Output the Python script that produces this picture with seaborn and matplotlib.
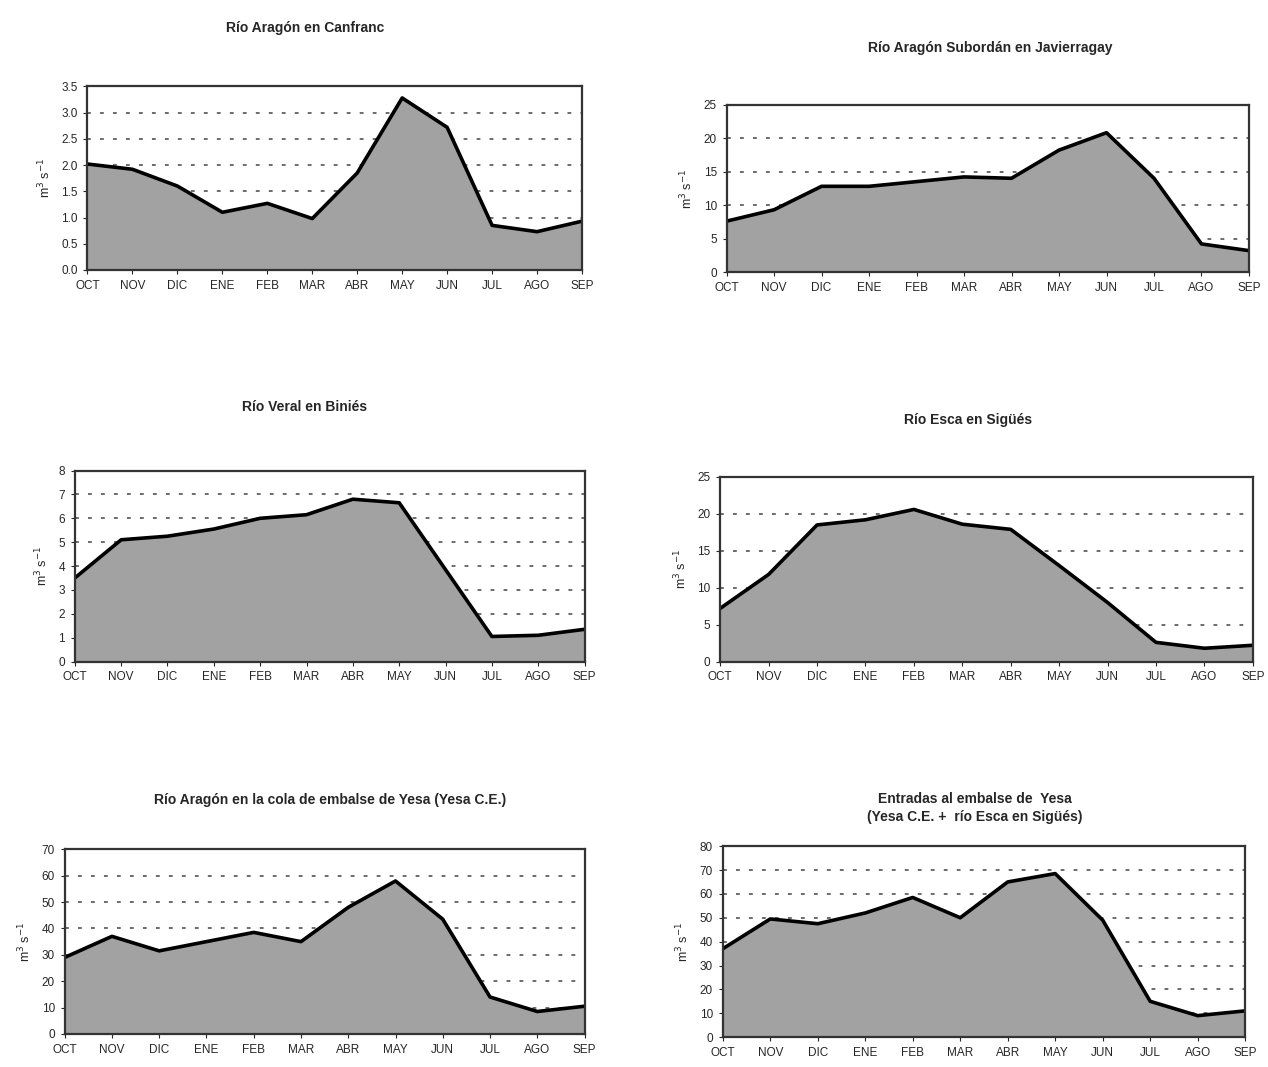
import numpy as np
import pandas as pd
import matplotlib
matplotlib.use("Agg")
import matplotlib.pyplot as plt
import seaborn as sns

# Month labels (hydrological year)
months = ["OCT", "NOV", "DIC", "ENE", "FEB", "MAR", "ABR", "MAY", "JUN", "JUL", "AGO", "SEP"]

# Mean monthly discharge (m3/s)
canfranc = [2.02, 1.92, 1.60, 1.10, 1.27, 0.98, 1.85, 3.28, 2.72, 0.85, 0.73, 0.93]
subordan = [7.6, 9.3, 12.8, 12.8, 13.5, 14.2, 14.0, 18.2, 20.8, 14.0, 4.2, 3.2]
veral = [3.5, 5.1, 5.25, 5.55, 6.0, 6.15, 6.8, 6.65, 3.85, 1.05, 1.1, 1.35]
esca = [7.2, 11.8, 18.5, 19.2, 20.6, 18.6, 17.9, 13.0, 8.0, 2.6, 1.8, 2.2]
yesa_ce = [29, 37, 31.5, 35, 38.5, 35, 48, 58, 43.5, 14, 8.5, 10.5]
entradas = [37, 49.5, 47.5, 52, 58.5, 50, 65, 68.5, 49, 15, 9, 11]

titles = [
    "Río Aragón en Canfranc",
    "Río Aragón Subordán en Javierragay",
    "Río Veral en Biniés",
    "Río Esca en Sigüés",
    "Río Aragón en la cola de embalse de Yesa (Yesa C.E.)",
    "Entradas al embalse de  Yesa\n(Yesa C.E. +  río Esca en Sigüés)",
]
series = [canfranc, subordan, veral, esca, yesa_ce, entradas]
ymax = [3.5, 25, 8, 25, 70, 80]
ystep = [0.5, 5, 1, 5, 10, 10]

# axes positions in figure fractions [left, bottom, width, height]
positions = [
    [0.069, 0.747, 0.390, 0.172],
    [0.573, 0.745, 0.412, 0.157],
    [0.059, 0.380, 0.402, 0.179],
    [0.568, 0.380, 0.420, 0.173],
    [0.051, 0.031, 0.410, 0.173],
    [0.570, 0.028, 0.412, 0.179],
]
# title positions in pixels (x center, y from top)
title_px = [(305, 28), (990, 48), (305, 407), (968, 420), (330, 800), (975, 808)]

sns.set_style("white")
plt.rcParams["font.family"] = ["Liberation Sans", "DejaVu Sans"]

W, H = 1268, 1067
fig = plt.figure(figsize=(W / 100, H / 100), dpi=100)

x = np.arange(len(months))
for i in range(6):
    ax = fig.add_axes(positions[i])
    df = pd.DataFrame({"mes": x, "caudal": series[i]})
    ticks = np.arange(0, ymax[i] + ystep[i] / 2, ystep[i])
    for t in ticks[1:-1]:
        ax.axhline(t, color="#444444", lw=1.1, ls=(0, (2.5, 6)), zorder=0)
    ax.fill_between(df["mes"], df["caudal"], color="#a2a2a2", zorder=1, lw=0)
    sns.lineplot(data=df, x="mes", y="caudal", color="black", lw=2.6, ax=ax, zorder=2)
    ax.set_xlim(0, 11)
    ax.set_ylim(0, ymax[i])
    ax.set_yticks(ticks)
    if ystep[i] < 1:
        ax.set_yticklabels([f"{t:.1f}" for t in ticks])
    else:
        ax.set_yticklabels([f"{int(t)}" for t in ticks])
    ax.set_xticks(x)
    ax.set_xticklabels(months)
    ax.tick_params(axis="both", labelsize=8.5, length=3, width=0.8, direction="out",
                   bottom=True, left=True, pad=4)
    ax.set_xlabel("")
    ax.set_ylabel("m$^3$ s$^{-1}$", fontsize=9, labelpad=6)
    for s in ax.spines.values():
        s.set_color("#333333")
        s.set_linewidth(1.6)
    tx, ty = title_px[i]
    fig.text(tx / W, 1 - ty / H, titles[i], ha="center", va="center",
             fontsize=10, fontweight="bold", linespacing=1.3)

fig.savefig("out.png", dpi=100, facecolor="white")
